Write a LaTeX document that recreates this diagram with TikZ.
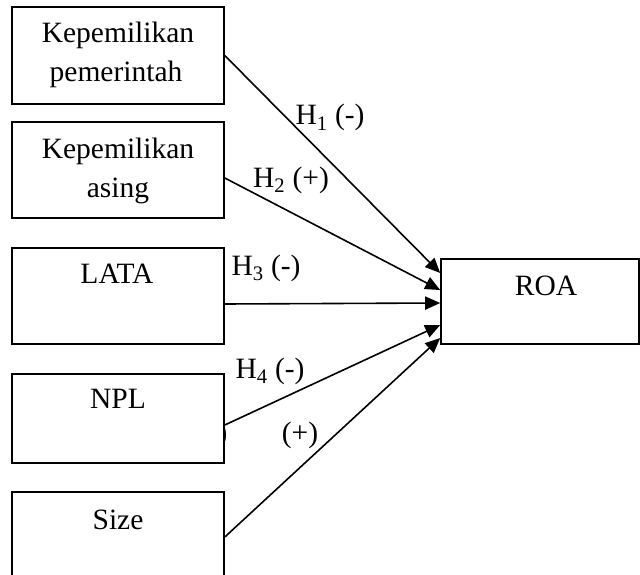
\documentclass[tikz,border=0pt]{standalone}
\usepackage{fontspec}
\setmainfont{Liberation Serif}
\usetikzlibrary{arrows.meta,calc}
\begin{document}
\begin{tikzpicture}[x=1pt,y=-1pt,
  box/.style={draw, line width=1.6pt, fill=white, inner sep=0pt, minimum width=212pt},
  lbl/.style={font=\fontsize{29.5}{32}\selectfont, inner sep=0pt, anchor=base},
  link/.style={line width=1.6pt, -{Triangle[length=15pt,width=13pt]}},
]
\useasboundingbox (0,0) rectangle (640,575);
% fragment of a hidden label
\begin{scope}
  \clip (224.8,426) rectangle (232,443);
  \node[lbl] (frag) at (222.5,442) {)};
\end{scope}
% boxes
\node[box, minimum height=97pt] (b1) at (118,55.5) {};
\node[box, minimum height=96pt] (b2) at (118,170) {};
\node[box, minimum height=96pt] (b3) at (118,296) {};
\node[box, minimum height=89pt] (b4) at (118,418.5) {};
\node[box, minimum height=108pt] (b5) at (118,546) {};
\node[box, minimum width=198pt, minimum height=85pt] (roa) at (540,301.5) {};
% box texts
\node[lbl] (t1a) at (118,43) {Kepemilikan};
\node[lbl] (t1b) at (116,82) {pemerintah};
\node[lbl] (t2a) at (118,158) {Kepemilikan};
\node[lbl] (t2b) at (118,197) {asing};
\node[lbl] (t3) at (117,283) {LATA};
\node[lbl] (t4) at (118,408) {NPL};
\node[lbl] (t5) at (118,529) {Size};
\node[lbl] (t6) at (546,295) {ROA};
% connectors
\draw[link] (b1.east) -- ([yshift=28.5pt]roa.west);
\draw[link] ([yshift=-8pt]b2.east) -- ([yshift=11.5pt]roa.west);
\draw[link] ([yshift=-8pt]b3.east) -- ([yshift=-1.5pt]roa.west);
\draw[link] ([yshift=-6.5pt]b4.east) -- ([yshift=-23.5pt]roa.west);
\draw[link] ([yshift=9pt]b5.east) -- ([yshift=-36.5pt]roa.west);
% labels
\node[lbl] (h1) at (330,125) {H\textsubscript{1} (-)};
\node[lbl] (h2) at (291,187) {H\textsubscript{2} (+)};
\node[lbl] (h3) at (266,275) {H\textsubscript{3} (-)};
\node[lbl] (h4) at (270,378) {H\textsubscript{4} (-)};
\node[lbl] (h5) at (300,442) {(+)};
\end{tikzpicture}
\end{document}
